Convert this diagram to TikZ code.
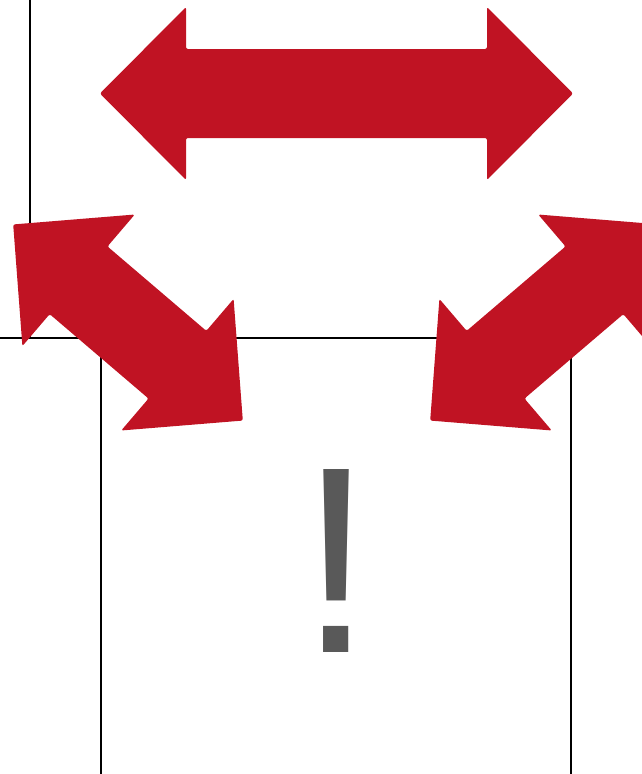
\documentclass[tikz,border=0pt]{standalone}
\usepackage{fontspec}
\newfontfamily\markfont{Liberation Sans}
\usetikzlibrary{positioning}
\definecolor{flowRed}{RGB}{192, 19, 35}
\definecolor{markGray}{RGB}{89, 89, 89}

\begin{document}
\begin{tikzpicture}[
  x=1pt,y=-1pt,
  gridline/.style={draw=black,line width=1.8pt},
  dblarrow/.pic={
    \fill[flowRed,rounded corners=2pt]
      ({-#1/2},0) -- ({-#1/2+86},86.5) -- ({-#1/2+86},44.5)
      -- ({#1/2-86},44.5) -- ({#1/2-86},86.5) -- ({#1/2},0)
      -- ({#1/2-86},-86.5) -- ({#1/2-86},-44.5)
      -- ({-#1/2+86},-44.5) -- ({-#1/2+86},-86.5) -- cycle;
  },
  warnmark/.style={font=\markfont\fontsize{266}{266}\selectfont,text=markGray,inner sep=0pt,anchor=base}
]
  \clip (0,0) rectangle (642,774);
  % cell borders
  \coordinate (topleft) at (30,0);
  \coordinate (corner) at (30,338);
  \coordinate (edge) at (0,338);
  \coordinate (boxleft) at (101,338);
  \coordinate (boxright) at (571,338);
  \coordinate (baseleft) at (101,774);
  \coordinate (baseright) at (571,774);
  \draw[gridline] (topleft) -- (corner);
  \draw[gridline] (edge) -- (boxright);
  \draw[gridline] (boxleft) -- (baseleft);
  \draw[gridline] (boxright) -- (baseright);
  % arrows
  \pic at (336.5,93.5) {dblarrow=473};
  \pic[rotate=-40.5] at (128,322.5) {dblarrow=302};
  \pic[rotate=40.5] at (545,322.5) {dblarrow=302};
  % warning mark
  \node[warnmark] (warn) at (336.5,652) {!};
\end{tikzpicture}
\end{document}
